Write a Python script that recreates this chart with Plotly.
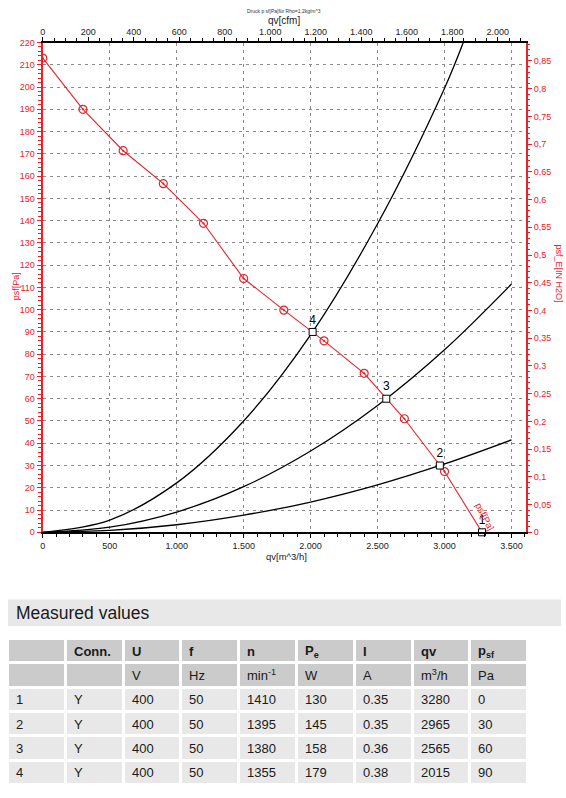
import plotly.graph_objects as go

W, H = 566, 798
RED = "#e3242b"
M3H_PER_CFM = 1.699011
PA_PER_INH2O = 249.0889

# ---- chart data ----
fan_qv = [0, 300, 600, 900, 1200, 1500, 1800, 2100, 2400, 2700, 3000]
fan_psf = [213, 190, 171.4, 156.6, 138.8, 114, 99.8, 86, 71.4, 51, 27.3]

sys4_qv = [0, 500, 1000, 1500, 2000, 2500, 3000, 3140]
sys4_psf = [0, 5.5, 22.2, 50, 88.7, 138.6, 199.5, 220]
sys3_qv = [0, 500, 1000, 1500, 2000, 2500, 3000, 3500]
sys3_psf = [0, 2.3, 9.1, 20.5, 36.5, 57, 82, 111.5]
sys2_qv = [0, 500, 1000, 1500, 2000, 2500, 3000, 3500]
sys2_psf = [0, 0.85, 3.4, 7.7, 13.6, 21.3, 30.7, 41.5]

# ---- measured values table ----
row_id = ["1", "2", "3", "4"]
conn = ["Y", "Y", "Y", "Y"]
volt = [400, 400, 400, 400]
freq = [50, 50, 50, 50]
speed = [1410, 1395, 1380, 1355]
power = [130, 145, 158, 179]
current = ["0.35", "0.35", "0.36", "0.38"]
qv = [3280, 2965, 2565, 2015]
psf = [0, 30, 60, 90]

header_labels = ["", "<b>Conn.</b>", "<b>U</b>", "<b>f</b>", "<b>n</b>",
                 "<b>P<sub>e</sub></b>", "<b>I</b>", "<b>qv</b>", "<b>p<sub>sf</sub></b>"]
unit_labels = ["", "", "V", "Hz", "min<sup>-1</sup>", "W", "A", "m<sup>3</sup>/h", "Pa"]


def px(x):
    return x / W


def py(y):
    return 1 - y / H


fig = go.Figure()

# system curves
for xs, ys in [(sys4_qv, sys4_psf), (sys3_qv, sys3_psf), (sys2_qv, sys2_psf)]:
    fig.add_trace(go.Scatter(x=xs, y=ys, mode="lines",
                             line=dict(color="black", width=1.3, shape="spline"),
                             hoverinfo="skip", showlegend=False))

# fan curve line (measured points + free delivery point)
fig.add_trace(go.Scatter(x=fan_qv + [qv[0]], y=fan_psf + [psf[0]], mode="lines",
                         line=dict(color=RED, width=1.1),
                         hoverinfo="skip", showlegend=False))
fig.add_trace(go.Scatter(x=fan_qv, y=fan_psf, mode="markers",
                         marker=dict(symbol="circle-open-dot", size=8,
                                     color=RED, line=dict(color=RED, width=1.2)),
                         showlegend=False))

# operating points
fig.add_trace(go.Scatter(x=qv, y=psf, mode="markers+text", text=row_id,
                         textposition="top center",
                         textfont=dict(size=12, color="black",
                                       family="Liberation Sans, Arial"),
                         marker=dict(symbol="square", size=7, color="white",
                                     line=dict(color="black", width=1)),
                         showlegend=False, cliponaxis=False))

# secondary units (anchors top / right axes)
fig.add_trace(go.Scatter(x=[q / M3H_PER_CFM for q in fan_qv],
                         y=[p / PA_PER_INH2O for p in fan_psf],
                         xaxis="x2", yaxis="y2", mode="lines",
                         line=dict(width=0), opacity=0,
                         hoverinfo="skip", showlegend=False))

XMAX = 3610
YMAX = 220
FONT = "Liberation Sans, Arial"
tickfont_k = dict(size=9, color="#222", family=FONT)
tickfont_r = dict(size=9, color=RED, family=FONT)
grid = dict(showgrid=True, gridcolor="#8a8a8a", gridwidth=1, griddash="3px,4px")

fig.update_layout(
    width=W, height=H,
    margin=dict(l=0, r=0, t=0, b=0),
    paper_bgcolor="white", plot_bgcolor="white",
    separators=",.",
    showlegend=False,
    xaxis=dict(domain=[px(40), px(526)], range=[0, XMAX], dtick=500,
               tick0=0, ticks="outside", ticklen=4, tickcolor="black",
               showline=True, linecolor="black", linewidth=2, zeroline=False,
               separatethousands=True, tickfont=tickfont_k, anchor="y",
               minor=dict(dtick=100, ticks="outside", ticklen=2.5,
                          tickcolor="black", showgrid=False),
               **grid),
    yaxis=dict(domain=[py(534), py(38)], range=[0, YMAX], dtick=10, tick0=0,
               ticks="outside", ticklen=4, tickcolor=RED,
               showline=True, linecolor=RED, linewidth=2.2, zeroline=False,
               tickfont=tickfont_r, anchor="x",
               minor=dict(dtick=2, ticks="outside", ticklen=2.5,
                          tickcolor=RED, showgrid=False),
               **grid),
    xaxis2=dict(overlaying="x", side="top", anchor="y2",
                range=[0, XMAX / M3H_PER_CFM], dtick=200, tick0=0,
                ticks="outside", ticklen=4, tickcolor="black",
                showline=True, linecolor="black", linewidth=2, zeroline=False,
                showgrid=False, separatethousands=True, tickfont=tickfont_k,
                ticklabelstandoff=-2,
                minor=dict(dtick=50, ticks="outside", ticklen=2.5,
                           tickcolor="black", showgrid=False)),
    yaxis2=dict(overlaying="y", side="right", anchor="x2",
                range=[0, YMAX / PA_PER_INH2O], dtick=0.05, tick0=0,
                ticks="outside", ticklen=4, tickcolor=RED,
                showline=True, linecolor=RED, linewidth=1.5, zeroline=False,
                showgrid=False, tickfont=tickfont_r,
                minor=dict(dtick=0.01, ticks="outside", ticklen=2.5,
                           tickcolor=RED, showgrid=False)),
)

annotations = [
    dict(text="Druck p sf[Pa]für Rho=1,2kg/m^3", x=px(282), y=py(6),
         font=dict(size=5, color="#333", family=FONT)),
    dict(text="qv[cfm]", x=px(282), y=py(16),
         font=dict(size=10, color="#222", family=FONT)),
    dict(text="qv[m^3/h]", x=px(285), y=py(558),
         font=dict(size=9.5, color="#222", family=FONT)),
    dict(text="psf[Pa]", x=px(13), y=py(285), textangle=-90,
         font=dict(size=9, color=RED, family=FONT)),
    dict(text="psf_E[IN H2O]", x=px(559), y=py(272), textangle=90,
         font=dict(size=9, color=RED, family=FONT)),
]
for a in annotations:
    a.update(xref="paper", yref="paper", showarrow=False,
             xanchor="center", yanchor="middle")
    fig.add_annotation(**a)

fig.add_annotation(text="psf[Pa]", x=3300, y=7, xref="x", yref="y",
                   textangle=63, showarrow=False,
                   font=dict(size=9.5, color=RED, family=FONT))

# Measured values heading bar
fig.add_shape(type="rect", xref="paper", yref="paper",
              x0=px(5), x1=px(561), y0=py(629), y1=py(602),
              fillcolor="#e8e8e8", line=dict(width=0), layer="below")
fig.add_annotation(text="Measured values", xref="paper", yref="paper",
                   x=px(11), y=py(615.5), xanchor="left", yanchor="middle",
                   showarrow=False, font=dict(size=17.5, color="#1a1a1a", family=FONT))

# ---- table: cells as a gapped heatmap on its own axes, text as annotations ----
columns = [row_id, conn, volt, freq, speed, power, current, qv, psf]
n_cols = len(columns)
table_rows = [header_labels, unit_labels] + [
    [str(col[i]) for col in columns] for i in range(len(row_id))]
n_rows = len(table_rows)
HDR_GRAY = "#cbcbcb"
ROW_GRAY = "#e8e8e8"
z = [[1] * n_cols if r < 2 else [0] * n_cols for r in range(n_rows)]

fig.add_trace(go.Heatmap(z=z, x=list(range(n_cols)), y=list(range(n_rows)),
                         xaxis="x3", yaxis="y3", zmin=0, zmax=1,
                         colorscale=[[0, ROW_GRAY], [1, HDR_GRAY]],
                         showscale=False, xgap=3, ygap=3, hoverinfo="skip"))
fig.update_layout(
    xaxis3=dict(domain=[px(5), px(528)], range=[-0.5, n_cols - 0.5], anchor="y3",
                visible=False, fixedrange=True),
    yaxis3=dict(domain=[py(790), py(642)], range=[n_rows - 0.5, -0.5], anchor="x3",
                visible=False, fixedrange=True),
)
for r, row in enumerate(table_rows):
    for c, txt in enumerate(row):
        if not txt:
            continue
        fig.add_annotation(text=txt, x=c - 0.5, y=r, xref="x3", yref="y3",
                           xanchor="left", yanchor="middle", xshift=6,
                           showarrow=False,
                           font=dict(size=13, color="#1a1a1a", family=FONT))

fig.write_html("out.html")
